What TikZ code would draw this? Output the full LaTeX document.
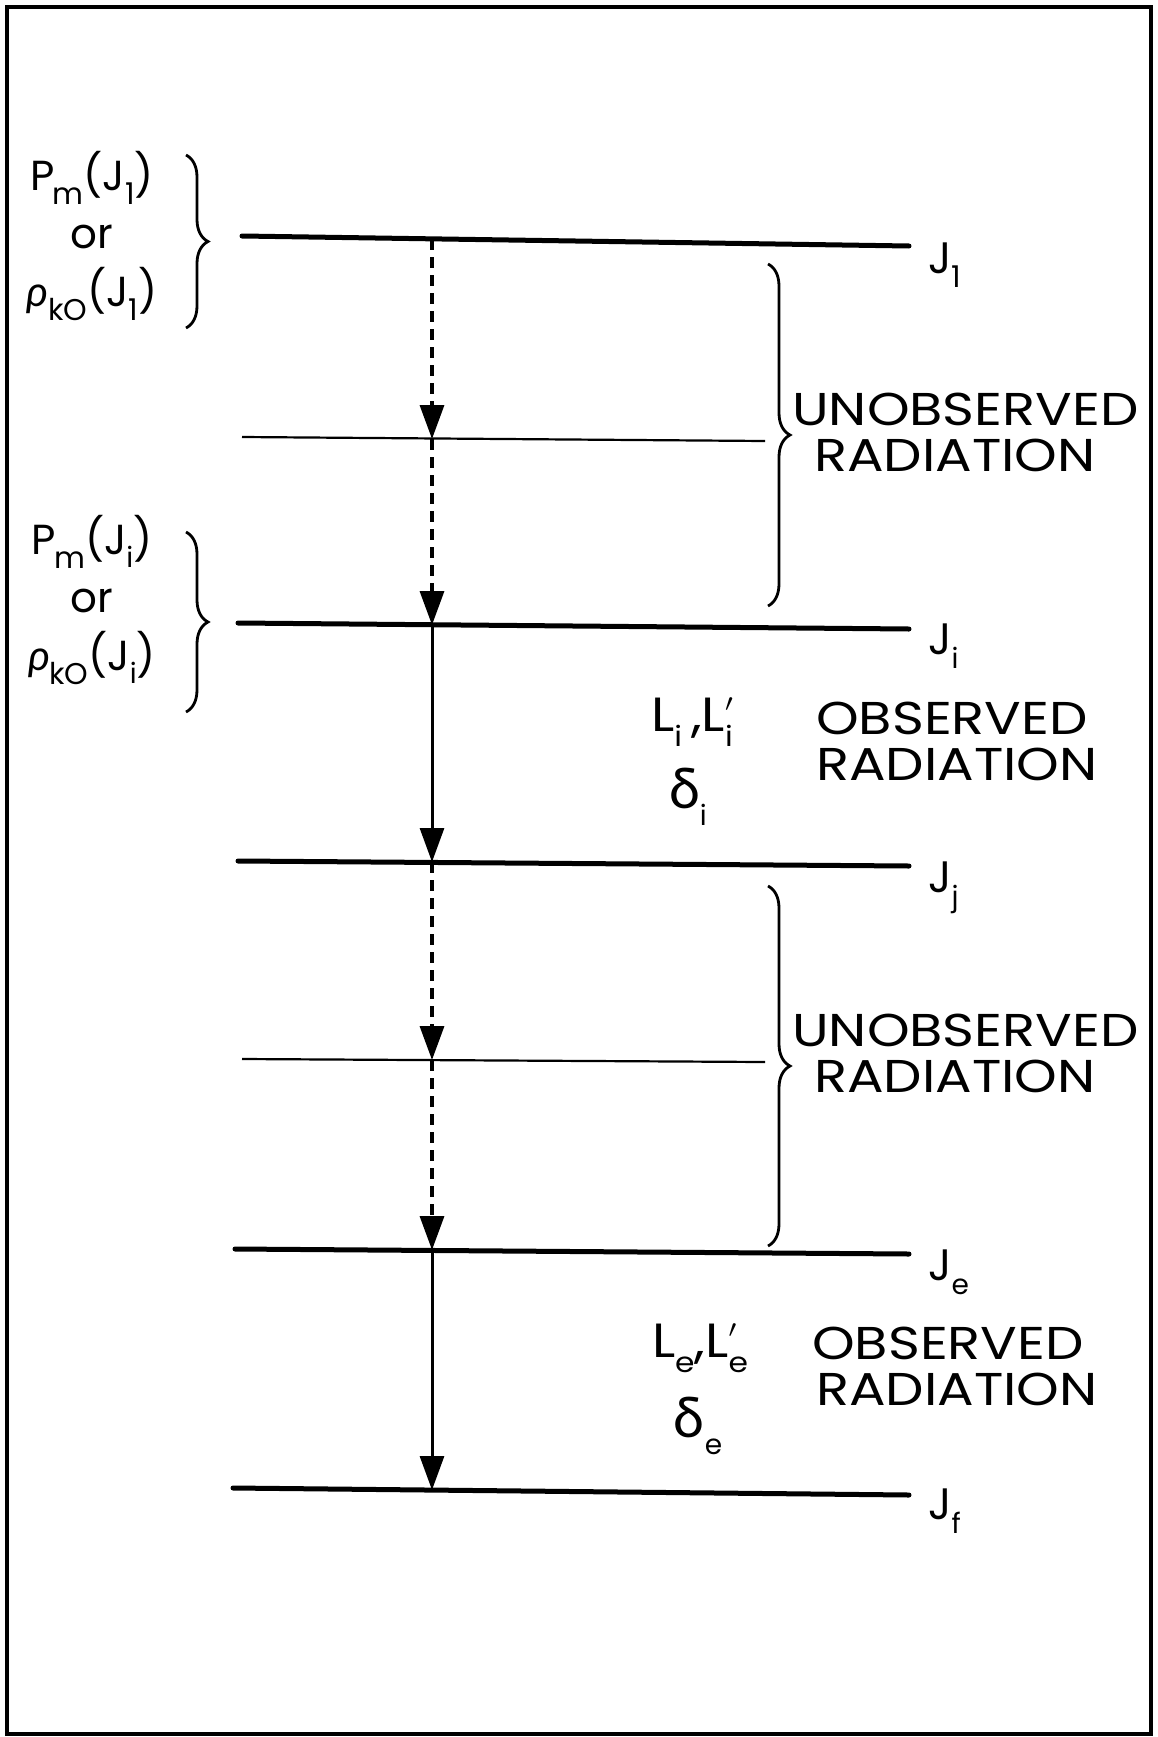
\documentclass[tikz,border=0pt]{standalone}
\usepackage{fontspec}
\setmainfont{Poppins}
\newfontfamily\grk{Lato}
\usetikzlibrary{arrows.meta,decorations.pathreplacing}
\newcommand{\sbx}[1]{\raisebox{-0.32em}{\fontsize{30}{30}\selectfont #1}}
\newcommand{\sbs}[1]{\raisebox{-0.3em}{\fontsize{28}{28}\selectfont #1}}
\newcommand{\wide}[1]{\scalebox{1.18}[1]{#1}}
\newcommand{\Lp}[1]{L\makebox[0pt][l]{\raisebox{0.42em}{\fontsize{40}{40}\selectfont$\prime$}}\sbs{#1}}
\begin{document}
\begin{tikzpicture}[x=1pt,y=-1pt,
  lvl/.style={line width=5pt, line cap=round},
  midl/.style={line width=2.2pt},
  trans/.style={line width=3pt, -{Triangle[length=34pt,width=24pt]}},
  unobs/.style={trans, line width=3.4pt, dash pattern=on 11pt off 7pt},
  brc/.style={line width=2.8pt, decorate, decoration={brace, amplitude=22pt, aspect=0.5}},
  big/.style={font=\fontsize{48}{48}\selectfont, inner sep=0pt},
  jlab/.style={font=\fontsize{44}{44}\selectfont, inner sep=0pt, anchor=north west},
  left lab/.style={font=\fontsize{42}{58}\selectfont, inner sep=0pt, align=center},
  rad/.style={font=\fontsize{46}{46}\selectfont, inner sep=0pt, align=left, anchor=west}]
\useasboundingbox (0,0) rectangle (1158,1737);
% frame
\draw[line width=4pt] (7,7) rectangle (1151,1734);

% level lines
\coordinate (l1a) at (242,236); \coordinate (l1b) at (909,246);
\coordinate (m1a) at (242,437); \coordinate (m1b) at (765,441);
\coordinate (lia) at (238,623); \coordinate (lib) at (909,629);
\coordinate (lja) at (238,861); \coordinate (ljb) at (909,866);
\coordinate (m2a) at (242,1059); \coordinate (m2b) at (765,1062);
\coordinate (lea) at (235,1249); \coordinate (leb) at (909,1254);
\coordinate (lfa) at (233,1488); \coordinate (lfb) at (909,1495);
\draw[lvl] (l1a) -- (l1b);
\draw[midl] (m1a) -- (m1b);
\draw[lvl] (lia) -- (lib);
\draw[lvl] (lja) -- (ljb);
\draw[midl] (m2a) -- (m2b);
\draw[lvl] (lea) -- (leb);
\draw[lvl] (lfa) -- (lfb);

% points on the transition column
\coordinate (v1) at (432,239);
\coordinate (v2) at (432,439);
\coordinate (v3) at (432,625);
\coordinate (v4) at (432,862);
\coordinate (v5) at (432,1060);
\coordinate (v6) at (432,1250);
\coordinate (v7) at (432,1490);
\draw[unobs] (v1) -- (v2);
\draw[unobs] (v2) -- (v3);
\draw[trans] (v3) -- (v4);
\draw[unobs] (v4) -- (v5);
\draw[unobs] (v5) -- (v6);
\draw[trans] (v6) -- (v7);

% level labels
\node[jlab] (j1) at (928,243) {J\sbx{1}};
\node[jlab] (ji) at (928,624) {J\sbs{i}};
\node[jlab] (jj) at (928,862) {J\sbs{j}};
\node[jlab] (je) at (928,1250) {J\sbs{e}};
\node[jlab] (jf) at (928,1489) {J\sbs{f}};

% left labels
\node[left lab] (p1) at (92,236) {P\kern-0.04em\sbx{m}(J\sbx{1})\\or\\{\grk\itshape ρ}\kern-0.02em\sbx{kO}(J\sbx{1})};
\node[left lab] (p2) at (92,600) {P\kern-0.04em\sbx{m}(J\sbs{i})\\or\\{\grk\itshape ρ}\kern-0.02em\sbx{kO}(J\sbs{i})};
\draw[brc] (186,155) -- (186,328);
\draw[brc] (186,532) -- (186,712);

% right braces and radiation labels
\draw[brc] (768,264) -- (768,606);
\draw[brc] (768,886) -- (768,1246);
\node[rad] (u1) at (792,432) {\wide{UNOBSERVED}\\\hspace*{22pt}\wide{RADIATION}};
\node[rad] (u2) at (792,1053) {\wide{UNOBSERVED}\\\hspace*{22pt}\wide{RADIATION}};
\node[rad] (o1) at (816,741) {\wide{OBSERVED}\\\wide{RADIATION}};
\node[rad] (o2) at (812,1366) {\wide{OBSERVED}\\\hspace*{4pt}\wide{RADIATION}};

% multipolarity labels
\node[big] (li) at (692,722) {\scalebox{1.12}[1]{L\sbs{i}\,,\Lp{i}}};
\node[big, font=\fontsize{56}{56}\selectfont] (di) at (688,797) {{\grk δ}\sbs{i}};
\node[big] (le) at (700,1348) {\scalebox{1.12}[1]{L\sbs{e},\Lp{e}}};
\node[big, font=\fontsize{56}{56}\selectfont] (de) at (698,1426) {{\grk δ}\sbs{e}};
\end{tikzpicture}
\end{document}
